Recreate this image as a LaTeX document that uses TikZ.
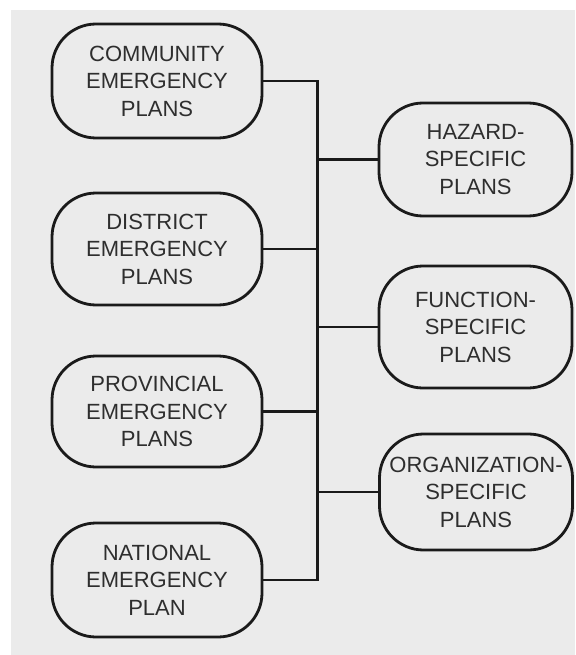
\documentclass[tikz,border=0pt]{standalone}
\usepackage{fontspec}
\setmainfont{Liberation Sans}
\definecolor{bg}{HTML}{EBEBEB}
\definecolor{ln}{HTML}{1A1A1A}
\definecolor{tx}{HTML}{2E2E2E}
\begin{document}
\begin{tikzpicture}[x=1pt,y=-1pt,
  plan/.style={draw=ln, line width=2.8pt, rounded corners=44pt, fill=bg,
    text=tx, align=center, inner sep=0pt,
    font=\fontsize{22pt}{27.5pt}\selectfont},
  lplan/.style={plan, minimum width=210pt},
  rplan/.style={plan, minimum width=193pt},
  link/.style={draw=ln, line width=2.8pt}]
\useasboundingbox (0,0) rectangle (575,655);
\fill[white] (0,0) rectangle (575,655);
\fill[bg] (11,10) rectangle (575,655);
\node[lplan, minimum height=114pt] (c1) at (157,81) {COMMUNITY\\EMERGENCY\\PLANS};
\node[lplan, minimum height=112pt] (c2) at (157,249) {DISTRICT\\EMERGENCY\\PLANS};
\node[lplan, minimum height=111pt] (c3) at (157,411.5) {PROVINCIAL\\EMERGENCY\\PLANS};
\node[lplan, minimum height=114pt] (c4) at (157,580) {NATIONAL\\EMERGENCY\\PLAN};
\node[rplan, minimum height=113pt] (r1) at (475.5,159.5) {HAZARD-\\SPECIFIC\\PLANS};
\node[rplan, minimum height=122pt] (r2) at (475.5,327) {FUNCTION-\\SPECIFIC\\PLANS};
\node[rplan, minimum height=116pt] (r3) at (476,492) {ORGANIZATION-\\SPECIFIC\\PLANS};
\coordinate (bus) at (317.5,0);
\draw[link, line cap=rect] (c1.east) -- (c1.east -| bus) -- (c4.east -| bus) -- (c4.east);
\draw[link] (c2.east) -- (c2.east -| bus);
\draw[link] (c3.east) -- (c3.east -| bus);
\draw[link] (r1.west -| bus) -- (r1.west);
\draw[link] (r2.west -| bus) -- (r2.west);
\draw[link] (r3.west -| bus) -- (r3.west);
\end{tikzpicture}
\end{document}
